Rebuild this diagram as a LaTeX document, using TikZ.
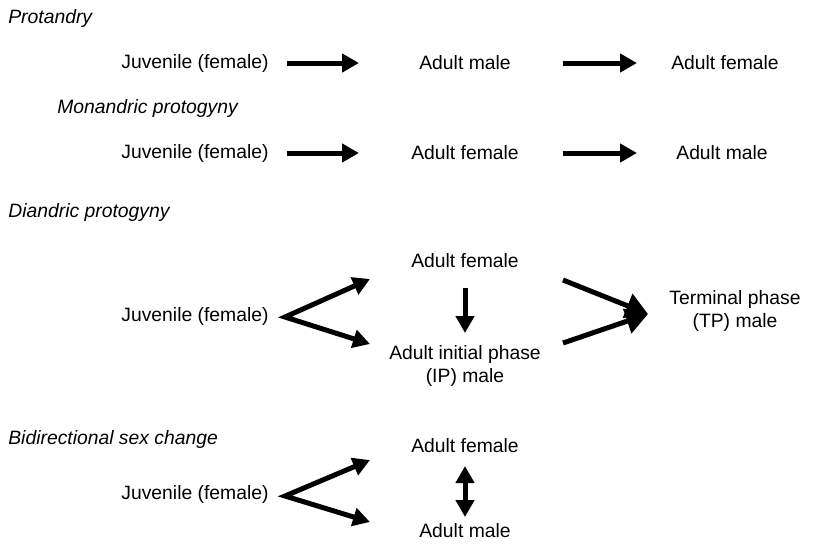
\documentclass[tikz,border=0pt]{standalone}
\usepackage{fontspec}
\setmainfont{Liberation Sans}
\usetikzlibrary{arrows.meta}

\tikzset{
  fat/.style={line width=0.1cm, ->},
  stage/.style={font=\fontsize{11}{13}\selectfont, align=center, inner sep=0pt},
  kind/.style={font=\fontsize{11}{13}\selectfont\itshape, anchor=west, inner sep=0pt}
}

\begin{document}
\begin{tikzpicture}[x=0.02cm,y=-0.02cm,>={Triangle[length=0.34cm,width=0.36cm]}]
\useasboundingbox (0,0) rectangle (837,545);

% protandry
\node[kind] (k1) at (8,18) {Protandry};
\node[stage] (j1) at (195,63) {Juvenile (female)};
\node[stage] (m1) at (465,63) {Adult male};
\node[stage] (f1) at (725,63) {Adult female};
\draw[fat,shorten <=1.84cm,shorten >=2.12cm] (j1.center) -- (m1.center);
\draw[fat,shorten <=1.96cm,shorten >=1.76cm] (m1.center) -- (f1.center);

% monandric protogyny
\node[kind] (k2) at (57,108) {Monandric protogyny};
\node[stage] (j2) at (195,153) {Juvenile (female)};
\node[stage] (f2) at (465,153) {Adult female};
\node[stage] (m2) at (722,153) {Adult male};
\draw[fat,shorten <=1.84cm,shorten >=2.12cm] (j2.center) -- (f2.center);
\draw[fat,shorten <=1.96cm,shorten >=1.70cm] (f2.center) -- (m2.center);

% diandric protogyny
\node[kind] (k3) at (8,212) {Diandric protogyny};
\node[stage] (j3) at (195,316) {Juvenile (female)};
\node[stage] (f3) at (465,261) {Adult female};
\node[stage] (ip3) at (465,366) {Adult initial phase\\(IP) male};
\node[stage] (tp3) at (735,311) {Terminal phase\\(TP) male};
\coordinate (v3) at (285,317);
\coordinate (a3) at (370,279);
\coordinate (b3) at (370,344);
\coordinate (p3) at (563,280);
\coordinate (q3) at (563,343);
\coordinate (c3) at (648,314);
\draw[fat,<->,line join=miter] (a3) -- (v3) -- (b3);
\draw[fat,shorten <=0.54cm,shorten >=0.66cm] (f3.center) -- (ip3.center);
\draw[fat,-{Triangle[length=0.44cm,width=0.5cm]}] (p3) -- (c3);
\draw[fat,-{Triangle[length=0.44cm,width=0.5cm]}] (q3) -- (c3);

% bidirectional sex change
\node[kind] (k4) at (8,439) {Bidirectional sex change};
\node[stage] (j4) at (195,494) {Juvenile (female)};
\node[stage] (f4) at (465,446) {Adult female};
\node[stage] (m4) at (465,531) {Adult male};
\coordinate (v4) at (285,496);
\coordinate (a4) at (370,460);
\coordinate (b4) at (370,522);
\draw[fat,<->,line join=miter] (a4) -- (v4) -- (b4);
\draw[fat,<->,shorten <=0.4cm,shorten >=0.28cm] (f4.center) -- (m4.center);
\end{tikzpicture}
\end{document}
